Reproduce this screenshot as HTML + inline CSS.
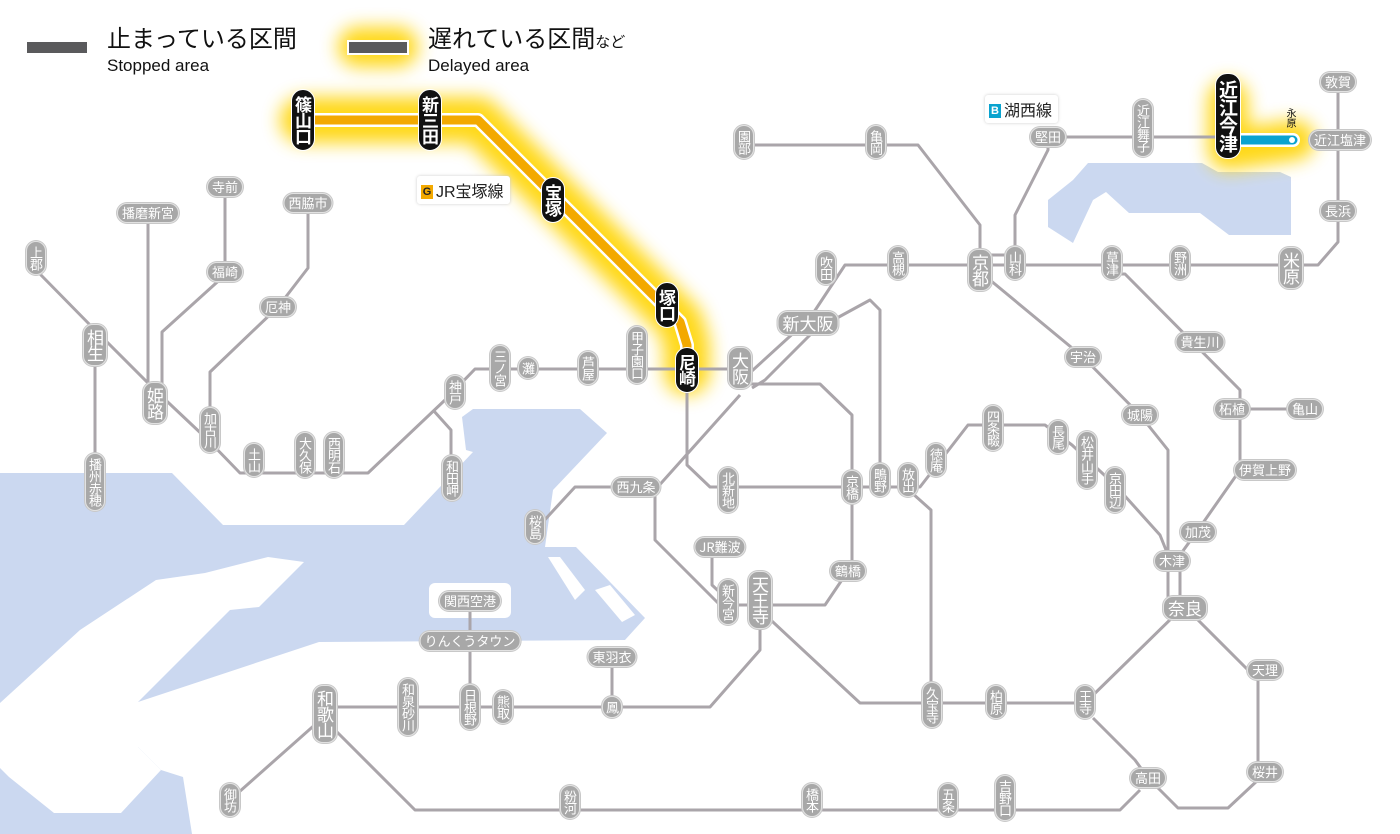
<!DOCTYPE html>
<html><head><meta charset="utf-8">
<style>
html,body{margin:0;padding:0;background:#fff;}
#w{position:relative;width:1400px;height:834px;overflow:hidden;font-family:"Liberation Sans","Noto Sans CJK JP",sans-serif;}
svg{position:absolute;left:0;top:0;}
.s{position:absolute;background:#a8a8a8;color:#fff;border:1.5px solid #e2e2e2;border-radius:10px;font-size:13px;line-height:14px;padding:2px 4px;transform:translate(-50%,-50%);white-space:nowrap;font-family:"Noto Sans CJK JP",sans-serif;box-shadow:0 0 0 1px #c8c8c8;}
.v{writing-mode:vertical-rl;text-orientation:upright;padding:4px 2px;letter-spacing:-1px;}
.b{font-size:17px;line-height:18px;}
.k{background:#111;border:1.5px solid #fff;box-shadow:none;font-size:17px;line-height:18px;font-weight:bold;padding:6px 2px;border-radius:12px;}
.t{position:absolute;color:#111;font-family:"Liberation Sans","Noto Sans CJK JP",sans-serif;line-height:1;white-space:nowrap;}
.badge{position:absolute;background:#fff;border-radius:3px;box-shadow:0 0 3px #ccc;padding:2px 6px 2px 4px;font-size:16px;color:#222;font-family:"Liberation Sans","Noto Sans CJK JP",sans-serif;}
.badge i{font-style:normal;display:inline-block;color:#fff;font-size:11px;width:12px;height:14px;line-height:14px;text-align:center;margin-right:3px;vertical-align:2px;font-weight:bold;}
</style></head><body><div id="w">
<svg width="1400" height="834" viewBox="0 0 1400 834">
<defs>
<filter id="gl" x="-30%" y="-30%" width="160%" height="160%"><feGaussianBlur stdDeviation="9"/></filter>
</defs>
<g fill="#cbd8f0">
<polygon points="0,473 172,473 223,525 404,525 473,452 466,450 462,417 473,409 580,409 607,433 553,490 545,547 576,547 645,618 625,640 319,642 138,702 138,747 161,770 183,777 192,834 0,834"/>
<polygon points="1088,163 1202,163 1218,172 1280,172 1291,177 1291,235 1229,235 1200,213 1129,213 1106,192 1093,200 1073,243 1048,227 1048,200 1073,180"/>
</g>
<g fill="#fff">
<polygon points="304,562 268,557 205,573 156,580 80,630 0,703 0,768 9,777 54,813 121,813 161,770 138,747 138,702 230,610 259,607"/>
<rect x="429" y="583" width="82" height="35" rx="6"/>
<polygon points="548,557 560,557 585,590 575,600"/>
<polygon points="595,590 610,585 635,615 622,622"/>
</g>
<g filter="url(#gl)" stroke="#ffd400" fill="none" stroke-linecap="round" stroke-linejoin="round" opacity="0.9">
<path d="M303,120 L478,120 L680,322 L687,345 L687,372" stroke-width="46"/>
<path d="M1228,100 L1228,150 L1295,140" stroke-width="40"/>
<path d="M358,47 L398,47" stroke-width="40"/>
</g>
<g stroke="#aaa5aa" stroke-width="3" fill="none" stroke-linejoin="round">
<path d="M38,272 L95,330 L155,390 L208,440 L240,473 L368,473 L445,400 L475,369 L740,369"/>
<path d="M95,340 L95,490"/>
<path d="M148,220 L148,395"/>
<path d="M225,190 L225,275 L162,332 L162,390"/>
<path d="M308,210 L308,268 L278,307 L210,372 L210,430"/>
<path d="M433,410 L451,430 L451,478"/>
<path d="M687,380 L687,465 L710,487 L920,487 L968,425 L1045,425 L1072,445 L1115,485 L1160,535 L1170,560"/>
<path d="M748,384 L820,384 L852,415 L852,565 L825,605 L720,605 L655,540 L655,490 L740,395"/>
<path d="M636,487 L575,487 L540,525"/>
<path d="M712,552 L712,585 L728,600"/>
<path d="M760,610 L760,650 L710,707 L325,707"/>
<path d="M612,660 L612,707"/>
<path d="M470,605 L470,707"/>
<path d="M318,722 L230,800"/>
<path d="M330,725 L415,810 L1120,810 L1140,790"/>
<path d="M1093,718 L1135,760 L1148,778"/>
<path d="M1155,785 L1178,808 L1228,808 L1258,780 L1258,680 L1190,612"/>
<path d="M760,610 L860,703 L1085,703 L1180,610"/>
<path d="M912,493 L931,510 L931,705"/>
<path d="M742,380 L810,318 L845,265 L1318,265 L1338,242 L1338,80"/>
<path d="M752,388 L765,380 L815,330 L870,300 L880,310 L880,487"/>
<path d="M744,145 L918,145 L980,225 L980,265"/>
<path d="M990,255 L1015,255"/>
<path d="M1015,265 L1015,215 L1048,150 L1048,137 L1228,137"/>
<path d="M1112,274 L1125,274 L1240,390 L1240,470 L1198,530 L1180,555 L1180,610"/>
<path d="M1232,409 L1305,409"/>
<path d="M990,280 L1083,357 L1140,415 L1168,450 L1168,600"/>
</g>
<path d="M303,120 L478,120 L680,322 L687,345 L687,372" stroke="#fff" stroke-width="14" fill="none" stroke-linejoin="round"/>
<path d="M303,120 L478,120 L680,322 L687,345 L687,372" stroke="#f3a900" stroke-width="9" fill="none" stroke-linejoin="round"/>
<path d="M1232,140 L1293,140" stroke="#fff" stroke-width="14" stroke-linecap="round"/>
<path d="M1232,140 L1293,140" stroke="#0aa3cf" stroke-width="9" stroke-linecap="round"/>
<circle cx="1292" cy="140" r="3" fill="#fff"/>
<rect x="27" y="42" width="60" height="11" fill="#5a5a5c"/>
<rect x="347" y="40" width="62" height="15" fill="#fff"/>
<rect x="349" y="42" width="58" height="11" fill="#5a5a5c"/>
</svg>

<div class="t" style="left:107px;top:28px;font-size:24px;">止まっている区間</div>
<div class="t" style="left:107px;top:57px;font-size:17px;">Stopped area</div>
<div class="t" style="left:428px;top:28px;font-size:24px;">遅れている区間<span style="font-size:15px">など</span></div>
<div class="t" style="left:428px;top:57px;font-size:17px;">Delayed area</div>

<div class="badge" style="left:417px;top:176px;"><i style="background:#f3a900;color:#222">G</i>JR宝塚線</div>
<div class="badge" style="left:985px;top:95px;"><i style="background:#0aa3cf">B</i>湖西線</div>
<div class="t" style="left:1284px;top:108px;font-size:10px;writing-mode:vertical-rl;text-orientation:upright;line-height:10px;">永原</div>

<div class="s v k" style="left:303px;top:120px">篠山口</div>
<div class="s v k" style="left:430px;top:120px">新三田</div>
<div class="s v k" style="left:553px;top:200px">宝塚</div>
<div class="s v k" style="left:667px;top:305px">塚口</div>
<div class="s v k" style="left:687px;top:370px">尼崎</div>
<div class="s v k" style="left:1228px;top:116px;font-size:19px;line-height:20px">近江今津</div>

<div class="s v" style="left:744px;top:142px">園部</div>
<div class="s v" style="left:876px;top:142px">亀岡</div>
<div class="s" style="left:1048px;top:137px">堅田</div>
<div class="s v" style="left:1143px;top:128px">近江舞子</div>
<div class="s" style="left:1338px;top:82px">敦賀</div>
<div class="s" style="left:1340px;top:140px">近江塩津</div>
<div class="s" style="left:1338px;top:211px">長浜</div>
<div class="s v" style="left:826px;top:268px">吹田</div>
<div class="s v" style="left:898px;top:263px">高槻</div>
<div class="s v b" style="left:980px;top:270px">京都</div>
<div class="s v" style="left:1015px;top:263px">山科</div>
<div class="s v" style="left:1112px;top:263px">草津</div>
<div class="s v" style="left:1180px;top:263px">野洲</div>
<div class="s v b" style="left:1291px;top:268px">米原</div>
<div class="s b" style="left:808px;top:323px">新大阪</div>
<div class="s v b" style="left:740px;top:368px">大阪</div>
<div class="s" style="left:1083px;top:357px">宇治</div>
<div class="s" style="left:1200px;top:342px">貴生川</div>
<div class="s" style="left:1140px;top:415px">城陽</div>
<div class="s" style="left:1232px;top:409px">柘植</div>
<div class="s" style="left:1305px;top:409px">亀山</div>
<div class="s v" style="left:993px;top:428px">四条畷</div>
<div class="s v" style="left:1058px;top:437px">長尾</div>
<div class="s v" style="left:1087px;top:460px">松井山手</div>
<div class="s v" style="left:1115px;top:490px">京田辺</div>
<div class="s v" style="left:936px;top:460px">徳庵</div>
<div class="s" style="left:1265px;top:470px">伊賀上野</div>
<div class="s" style="left:1198px;top:532px">加茂</div>
<div class="s" style="left:1172px;top:561px">木津</div>
<div class="s b" style="left:1185px;top:608px">奈良</div>
<div class="s" style="left:1265px;top:670px">天理</div>
<div class="s" style="left:1265px;top:772px">桜井</div>
<div class="s" style="left:1148px;top:778px">高田</div>
<div class="s v" style="left:1085px;top:702px">王寺</div>
<div class="s v" style="left:996px;top:702px">柏原</div>
<div class="s v" style="left:932px;top:705px">久宝寺</div>
<div class="s v" style="left:908px;top:480px">放出</div>
<div class="s v" style="left:880px;top:480px">鴫野</div>
<div class="s v" style="left:852px;top:487px">京橋</div>
<div class="s v" style="left:728px;top:490px">北新地</div>
<div class="s" style="left:636px;top:487px">西九条</div>
<div class="s v" style="left:535px;top:527px">桜島</div>
<div class="s" style="left:720px;top:547px">JR難波</div>
<div class="s v" style="left:728px;top:602px">新今宮</div>
<div class="s v b" style="left:760px;top:600px">天王寺</div>
<div class="s" style="left:848px;top:571px">鶴橋</div>
<div class="s v" style="left:637px;top:355px">甲子園口</div>
<div class="s v" style="left:588px;top:368px">芦屋</div>
<div class="s v" style="left:528px;top:368px">灘</div>
<div class="s v" style="left:500px;top:368px">三ノ宮</div>
<div class="s v" style="left:455px;top:392px">神戸</div>
<div class="s v" style="left:452px;top:478px">和田岬</div>
<div class="s v" style="left:334px;top:455px">西明石</div>
<div class="s v" style="left:305px;top:455px">大久保</div>
<div class="s v" style="left:254px;top:460px">土山</div>
<div class="s v" style="left:210px;top:430px">加古川</div>
<div class="s v b" style="left:155px;top:403px">姫路</div>
<div class="s v b" style="left:95px;top:345px">相生</div>
<div class="s v" style="left:95px;top:482px">播州赤穂</div>
<div class="s v" style="left:36px;top:258px">上郡</div>
<div class="s" style="left:148px;top:213px">播磨新宮</div>
<div class="s" style="left:225px;top:187px">寺前</div>
<div class="s" style="left:225px;top:272px">福崎</div>
<div class="s" style="left:308px;top:203px">西脇市</div>
<div class="s" style="left:278px;top:307px">厄神</div>
<div class="s" style="left:470px;top:601px">関西空港</div>
<div class="s" style="left:470px;top:641px">りんくうタウン</div>
<div class="s" style="left:612px;top:657px">東羽衣</div>
<div class="s v" style="left:612px;top:707px">鳳</div>
<div class="s v" style="left:503px;top:707px">熊取</div>
<div class="s v" style="left:470px;top:707px">日根野</div>
<div class="s v" style="left:408px;top:707px">和泉砂川</div>
<div class="s v b" style="left:325px;top:714px">和歌山</div>
<div class="s v" style="left:230px;top:800px">御坊</div>
<div class="s v" style="left:570px;top:802px">粉河</div>
<div class="s v" style="left:812px;top:800px">橋本</div>
<div class="s v" style="left:948px;top:800px">五条</div>
<div class="s v" style="left:1005px;top:798px">吉野口</div>
</div></body></html>
